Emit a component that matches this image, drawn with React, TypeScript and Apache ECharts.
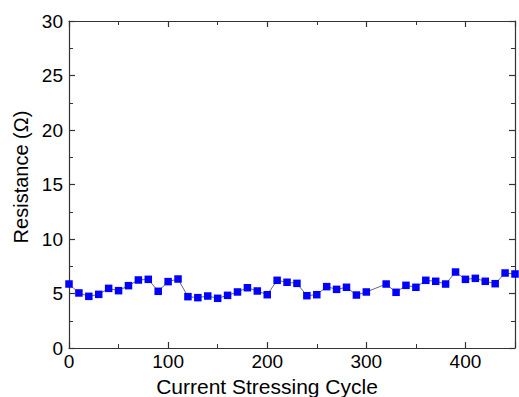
import React, { useEffect, useRef } from "react";
import * as echarts from "echarts";

const cycles = [0, 10, 20, 30, 40, 50, 60, 70, 80, 90, 100, 110, 120, 130, 140, 150, 160, 170, 180, 190, 200, 210, 220, 230, 240, 250, 260, 270, 280, 290, 300, 320, 330, 340, 350, 360, 370, 380, 390, 400, 410, 420, 430, 440, 450];
const resistance = [5.87, 5.05, 4.74, 4.92, 5.47, 5.26, 5.72, 6.24, 6.3, 5.2, 6.09, 6.33, 4.71, 4.62, 4.77, 4.56, 4.83, 5.14, 5.53, 5.23, 4.89, 6.21, 6.03, 5.93, 4.8, 4.89, 5.63, 5.38, 5.57, 4.86, 5.14, 5.87, 5.11, 5.75, 5.57, 6.21, 6.12, 5.87, 6.97, 6.3, 6.39, 6.12, 5.9, 6.88, 6.79];
const xTitle = "Current Stressing Cycle";
const yTitle = "Resistance (Ω)";

const FONT = "Liberation Sans, Arial, sans-serif";
const AX = "#333333";

export default function App() {
  const ref = useRef<HTMLDivElement>(null);
  useEffect(() => {
    if (!ref.current) return;
    const chart = echarts.init(ref.current, undefined, { renderer: "svg" });
    const axisLine = { show: true, onZero: false, lineStyle: { color: AX, width: 1.2 } };
    const tick = { show: true, inside: true, length: 6, lineStyle: { color: AX, width: 1.2 } };
    const minor = { show: true, splitNumber: 2, length: 4, lineStyle: { color: AX, width: 1 } };
    chart.setOption({
      animation: false,
      backgroundColor: "#ffffff",
      grid: { left: 69, right: 4, top: 21, bottom: 49, containLabel: false, outerBoundsMode: "none" },
      xAxis: [
        {
          type: "value",
          min: 0,
          max: 450,
          interval: 100,
          position: "bottom",
          axisLine,
          axisTick: tick,
          minorTick: minor,
          splitLine: { show: false },
          axisLabel: { show: true, color: "#000", fontSize: 19, fontFamily: FONT, margin: 4, showMaxLabel: false },
          name: xTitle,
          nameLocation: "middle",
          nameGap: 28,
          nameTextStyle: { color: "#000", fontSize: 21, fontFamily: FONT, padding: [0, 50, 0, 0] },
        },
        {
          type: "value",
          min: 0,
          max: 450,
          interval: 100,
          position: "top",
          axisLine,
          axisTick: tick,
          minorTick: minor,
          splitLine: { show: false },
          axisLabel: { show: false },
        },
      ],
      yAxis: [
        {
          type: "value",
          min: 0,
          max: 30,
          interval: 5,
          position: "left",
          axisLine,
          axisTick: tick,
          minorTick: minor,
          splitLine: { show: false },
          axisLabel: { show: true, color: "#000", fontSize: 19, fontFamily: FONT, margin: 6 },
          name: yTitle,
          nameLocation: "middle",
          nameGap: 31,
          nameTextStyle: { color: "#000", fontSize: 20, fontFamily: FONT, padding: [0, 0, 0, 15] },
        },
        {
          type: "value",
          min: 0,
          max: 30,
          interval: 5,
          position: "right",
          axisLine,
          axisTick: tick,
          minorTick: minor,
          splitLine: { show: false },
          axisLabel: { show: false },
        },
      ],
      series: [
        {
          type: "line",
          xAxisIndex: 0,
          yAxisIndex: 0,
          data: cycles.map((c, i) => [c, resistance[i]]),
          symbol: "rect",
          symbolSize: 7.5,
          itemStyle: { color: "#0000ff" },
          lineStyle: { color: "#444444", width: 0.8 },
          clip: false,
        },
      ],
    });
    return () => chart.dispose();
  }, []);
  return <div ref={ref} style={{ width: 519, height: 397, position: "absolute", left: 0, top: 0 }} />;
}
